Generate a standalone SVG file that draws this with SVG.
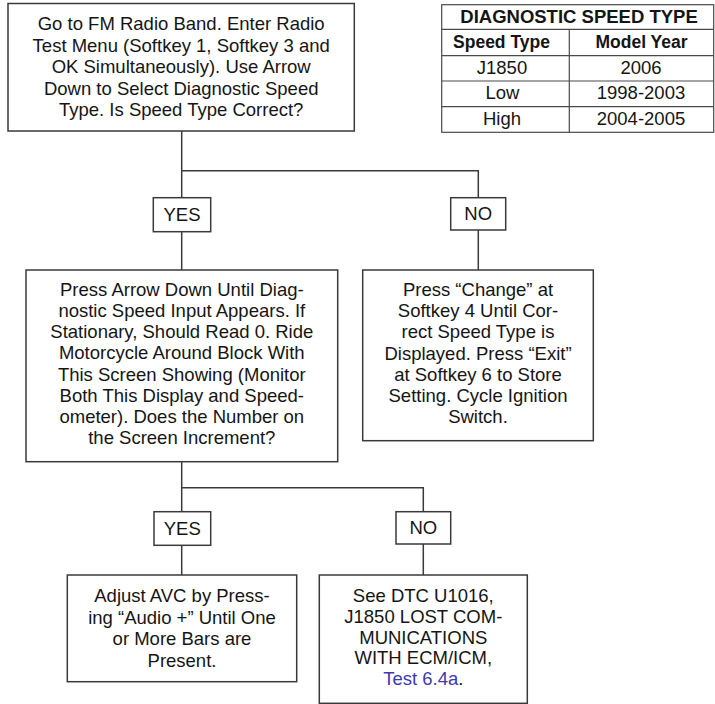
<svg xmlns="http://www.w3.org/2000/svg" width="715" height="704" viewBox="0 0 715 704">
<style>
  .box { fill: #ffffff; stroke: #3a3a3a; stroke-width: 1.5; }
  .conn { fill: none; stroke: #3a3a3a; stroke-width: 1.5; }
  .t { font-family: "Liberation Sans", Arial, Helvetica, sans-serif; font-size: 18.5px; fill: #151515; text-anchor: middle; }
  .tb { font-family: "Liberation Sans", Arial, Helvetica, sans-serif; font-size: 17.5px; font-weight: bold; fill: #151515; text-anchor: middle; }
  .tab { fill: none; stroke: #4a4a4a; stroke-width: 1.2; }
  .link { fill: #3b3bb0; }
</style>
<rect width="715" height="704" fill="#ffffff"/>

<g id="connectors">
  <path class="conn" d="M181.7,131 V270"/>
  <path class="conn" d="M181.7,170.7 H478.3 V270"/>
  <path class="conn" d="M181.7,461.7 V575"/>
  <path class="conn" d="M181.7,487.7 H423.3 V575"/>
</g>

<g id="start">
  <rect class="box" x="8" y="3.5" width="346.3" height="127.5"/>
  <text class="t" x="181.2" y="30">Go to FM Radio Band. Enter Radio</text>
  <text class="t" x="181.2" y="51.5">Test Menu (Softkey 1, Softkey 3 and</text>
  <text class="t" x="181.2" y="73">OK Simultaneously). Use Arrow</text>
  <text class="t" x="181.2" y="94.5">Down to Select Diagnostic Speed</text>
  <text class="t" x="181.2" y="116">Type. Is Speed Type Correct?</text>
</g>

<g id="table">
  <rect class="tab" x="441.7" y="4.7" width="272" height="127.6"/>
  <line class="tab" x1="441.7" y1="29.3" x2="713.7" y2="29.3"/>
  <line class="tab" x1="441.7" y1="55.7" x2="713.7" y2="55.7"/>
  <line class="tab" x1="441.7" y1="81" x2="713.7" y2="81"/>
  <line class="tab" x1="441.7" y1="106.7" x2="713.7" y2="106.7"/>
  <line class="tab" x1="569.3" y1="29.3" x2="569.3" y2="132.3"/>
  <text class="tb" x="579" y="23" style="font-size:18.5px">DIAGNOSTIC SPEED TYPE</text>
  <text class="tb" x="501.5" y="48.3">Speed Type</text>
  <text class="tb" x="641.5" y="48.3">Model Year</text>
  <text class="t" x="502" y="73.5">J1850</text>
  <text class="t" x="641" y="73.5">2006</text>
  <text class="t" x="502.5" y="99.3">Low</text>
  <text class="t" x="641" y="99.3">1998-2003</text>
  <text class="t" x="502" y="124.5">High</text>
  <text class="t" x="641" y="124.5">2004-2005</text>
</g>

<g id="yes1">
  <rect class="box" x="153.3" y="197.7" width="57.4" height="34"/>
  <text class="t" x="182" y="221">YES</text>
</g>
<g id="no1">
  <rect class="box" x="450.7" y="197.7" width="55" height="32.3"/>
  <text class="t" x="478.2" y="219.5">NO</text>
</g>

<g id="check-speed">
  <rect class="box" x="26" y="270" width="311.7" height="191.7"/>
  <text class="t" x="181.8" y="295.7">Press Arrow Down Until Diag-</text>
  <text class="t" x="181.8" y="317">nostic Speed Input Appears. If</text>
  <text class="t" x="181.8" y="338.2">Stationary, Should Read 0. Ride</text>
  <text class="t" x="181.8" y="359.4">Motorcycle Around Block With</text>
  <text class="t" x="181.8" y="380.6">This Screen Showing (Monitor</text>
  <text class="t" x="181.8" y="401.8">Both This Display and Speed-</text>
  <text class="t" x="181.8" y="423">ometer). Does the Number on</text>
  <text class="t" x="181.8" y="444.3">the Screen Increment?</text>
</g>

<g id="change-speed">
  <rect class="box" x="362.7" y="270" width="230.6" height="170.7"/>
  <text class="t" x="478" y="295.7">Press “Change” at</text>
  <text class="t" x="478" y="317">Softkey 4 Until Cor-</text>
  <text class="t" x="478" y="338.2">rect Speed Type is</text>
  <text class="t" x="478" y="359.5">Displayed. Press “Exit”</text>
  <text class="t" x="478" y="380.8">at Softkey 6 to Store</text>
  <text class="t" x="478" y="402">Setting. Cycle Ignition</text>
  <text class="t" x="478" y="423.3">Switch.</text>
</g>

<g id="yes2">
  <rect class="box" x="154" y="511.7" width="56.7" height="33.6"/>
  <text class="t" x="182.3" y="535">YES</text>
</g>
<g id="no2">
  <rect class="box" x="396" y="511.7" width="54.7" height="32.3"/>
  <text class="t" x="423.3" y="534">NO</text>
</g>

<g id="adjust-avc">
  <rect class="box" x="67.3" y="575" width="229.4" height="106.7"/>
  <text class="t" x="182" y="602.3">Adjust AVC by Press-</text>
  <text class="t" x="182" y="623.8">ing “Audio +” Until One</text>
  <text class="t" x="182" y="645.3">or More Bars are</text>
  <text class="t" x="182" y="666.7">Present.</text>
</g>

<g id="see-dtc">
  <rect class="box" x="319.3" y="575" width="208" height="128.3"/>
  <text class="t" x="423.3" y="602.3">See DTC U1016,</text>
  <text class="t" x="423.3" y="623">J1850 LOST COM-</text>
  <text class="t" x="423.3" y="643.7">MUNICATIONS</text>
  <text class="t" x="423.3" y="664.4">WITH ECM/ICM,</text>
  <text class="t" x="423.3" y="685"><tspan class="link">Test 6.4a</tspan>.</text>
</g>
</svg>
